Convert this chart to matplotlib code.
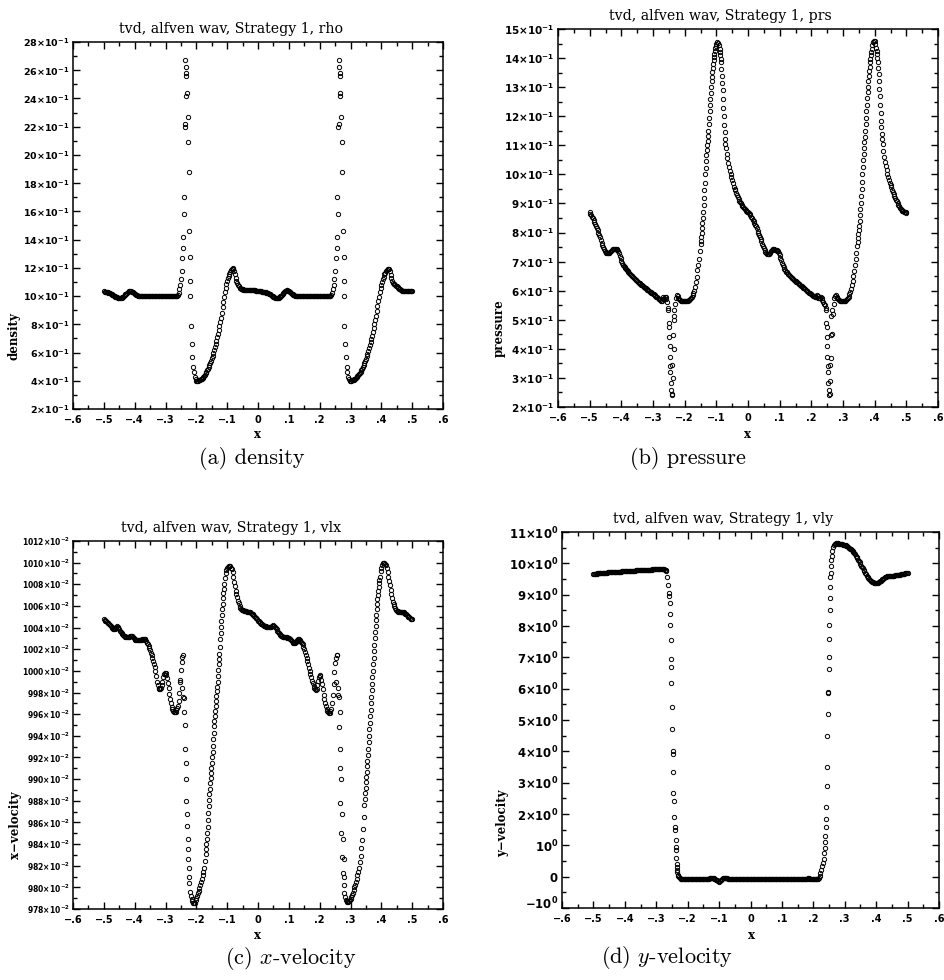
import numpy as np
import matplotlib
matplotlib.use('Agg')
import matplotlib.pyplot as plt
import matplotlib.transforms as mtransforms
from matplotlib.ticker import MultipleLocator

plt.rcParams['mathtext.fontset'] = 'dejavusans'

# ---------------- data (grid x from -0.5 to 0.5, step 0.0025) ----------------
x_grid = np.round(np.linspace(-0.5, 0.5, 401), 4)

rho_left = [
    1.033, 1.032, 1.031, 1.030, 1.028, 1.026, 1.024, 1.022, 1.020, 1.017, 1.014, 1.011, 1.008, 1.004, 1.000, 0.996, 0.993, 0.990, 0.988, 0.986,
    0.985, 0.985, 0.986, 0.988, 0.991, 0.995, 1.000, 1.006, 1.012, 1.018, 1.024, 1.029, 1.033, 1.035, 1.035, 1.034, 1.032, 1.029, 1.026, 1.022,
    1.018, 1.014, 1.010, 1.007, 1.004, 1.002, 1.001, 1.000, 0.999, 0.999, 1.000, 1.001, 1.001, 1.000, 0.999, 0.998, 0.999, 1.000, 1.001, 1.002,
    1.001, 1.000, 0.999, 0.998, 0.998, 0.999, 1.000, 1.001, 1.000, 0.999, 0.998, 0.998, 0.999, 1.000, 1.001, 1.002, 1.001, 1.000, 0.999, 0.999,
    1.000, 1.001, 1.002, 1.001, 1.000, 0.999, 0.998, 0.999, 1.000, 1.001, 1.002, 1.003, 1.002, 1.000, 0.999, 1.001, 1.005, 1.020, 1.050, 1.080,
    1.12, 1.18, 1.27, 1.42, 1.70, 2.20, 2.62, 2.56, 2.44, 2.27, 1.88, 1.46, 1.00, 0.79, 0.66, 0.57, 0.50, 0.46, 0.43, 0.41,
    0.400, 0.399, 0.400, 0.402, 0.404, 0.407, 0.411, 0.416, 0.422, 0.428, 0.435, 0.443, 0.452, 0.462, 0.473, 0.485, 0.498, 0.512, 0.527, 0.543,
    0.560, 0.578, 0.597, 0.617, 0.638, 0.660, 0.683, 0.707, 0.732, 0.758, 0.785, 0.815, 0.848, 0.883, 0.920, 0.957, 0.993, 1.028, 1.060, 1.088,
    1.110, 1.128, 1.143, 1.157, 1.170, 1.182, 1.193, 1.199, 1.192, 1.175, 1.153, 1.130, 1.110, 1.093, 1.079, 1.068, 1.060, 1.055, 1.051, 1.049,
    1.047, 1.046, 1.046, 1.045, 1.045, 1.045, 1.044, 1.044, 1.044, 1.043, 1.043, 1.043, 1.042, 1.042, 1.042, 1.041, 1.040, 1.039, 1.038, 1.036,
]
rho_right = [
    1.035, 1.035, 1.034, 1.034, 1.033, 1.032, 1.031, 1.030, 1.029, 1.028, 1.026, 1.025, 1.023, 1.021, 1.018, 1.015, 1.012, 1.008, 1.003, 0.999,
    0.995, 0.992, 0.989, 0.987, 0.986, 0.986, 0.987, 0.989, 0.993, 0.998, 1.004, 1.011, 1.018, 1.025, 1.031, 1.036, 1.039, 1.040, 1.040, 1.038,
    1.035, 1.031, 1.026, 1.021, 1.016, 1.012, 1.008, 1.005, 1.003, 1.001, 1.000, 0.999, 0.999, 1.000, 1.001, 1.001, 1.000, 0.999, 0.998, 0.999,
    1.000, 1.001, 1.002, 1.001, 1.000, 0.999, 0.998, 0.998, 0.999, 1.000, 1.001, 1.000, 0.999, 0.998, 0.999, 1.000, 1.001, 1.002, 1.001, 1.000,
    0.999, 0.998, 0.999, 1.000, 1.001, 1.002, 1.001, 1.000, 0.999, 1.000, 1.001, 1.002, 1.001, 1.000, 1.001, 1.005, 1.020, 1.050, 1.080, 1.120,
    1.18, 1.27, 1.42, 1.70, 2.20, 2.62, 2.56, 2.44, 2.27, 1.88, 1.46, 1.00, 0.79, 0.66, 0.57, 0.50, 0.46, 0.43, 0.41, 0.400,
    0.399, 0.400, 0.402, 0.404, 0.407, 0.411, 0.416, 0.421, 0.427, 0.433, 0.440, 0.448, 0.456, 0.465, 0.475, 0.486, 0.498, 0.511, 0.525, 0.540,
    0.556, 0.573, 0.591, 0.610, 0.630, 0.651, 0.673, 0.696, 0.720, 0.745, 0.772, 0.800, 0.830, 0.862, 0.895, 0.929, 0.963, 0.996, 1.027, 1.055,
    1.080, 1.102, 1.121, 1.138, 1.153, 1.166, 1.177, 1.186, 1.192, 1.194, 1.190, 1.175, 1.150, 1.125, 1.106, 1.095, 1.089, 1.085, 1.080, 1.074,
    1.068, 1.062, 1.056, 1.051, 1.047, 1.044, 1.041, 1.039, 1.037, 1.035, 1.034, 1.033, 1.033, 1.033, 1.034, 1.034, 1.034, 1.034, 1.034, 1.033,
    1.033,
]
rho_extra_x = [-0.2365, -0.2335, -0.2335, -0.2380, -0.2265, -0.2415, -0.2425, -0.2220, -0.2215,
               0.2635, 0.2665, 0.2665, 0.2620, 0.2735, 0.2585, 0.2575, 0.2780, 0.2785]
rho_extra_y = [2.67, 2.58, 2.42, 2.22, 2.09, 1.58, 1.34, 1.28, 1.11,
               2.67, 2.58, 2.42, 2.22, 2.09, 1.58, 1.34, 1.28, 1.11]

prs_left = [
    0.869, 0.864, 0.859, 0.854, 0.849, 0.843, 0.837, 0.830, 0.823, 0.816, 0.808, 0.800, 0.792, 0.783, 0.774, 0.765, 0.757, 0.749, 0.742, 0.736,
    0.732, 0.729, 0.728, 0.728, 0.729, 0.731, 0.734, 0.737, 0.740, 0.742, 0.744, 0.745, 0.745, 0.745, 0.744, 0.741, 0.736, 0.728, 0.719, 0.711,
    0.703, 0.696, 0.690, 0.685, 0.681, 0.677, 0.673, 0.670, 0.667, 0.664, 0.661, 0.658, 0.655, 0.652, 0.649, 0.646, 0.644, 0.641, 0.638, 0.636,
    0.633, 0.631, 0.628, 0.626, 0.623, 0.621, 0.619, 0.617, 0.614, 0.612, 0.610, 0.608, 0.605, 0.603, 0.601, 0.599, 0.597, 0.595, 0.593, 0.591,
    0.589, 0.587, 0.584, 0.582, 0.580, 0.577, 0.575, 0.572, 0.570, 0.567, 0.565, 0.566, 0.572, 0.578, 0.570, 0.578, 0.580, 0.572, 0.562, 0.540,
    0.490, 0.410, 0.320, 0.260, 0.245, 0.300, 0.400, 0.500, 0.555, 0.575, 0.585, 0.582, 0.576, 0.571, 0.567, 0.565, 0.564, 0.563, 0.563, 0.563,
    0.563, 0.563, 0.564, 0.564, 0.566, 0.567, 0.569, 0.572, 0.575, 0.580, 0.585, 0.592, 0.600, 0.613, 0.630, 0.648, 0.670, 0.690, 0.710, 0.735,
    0.760, 0.785, 0.815, 0.850, 0.895, 0.945, 1.000, 1.045, 1.084, 1.115, 1.150, 1.195, 1.240, 1.280, 1.320, 1.352, 1.380, 1.405, 1.425, 1.440,
    1.447, 1.454, 1.452, 1.445, 1.430, 1.410, 1.385, 1.340, 1.290, 1.230, 1.170, 1.120, 1.090, 1.070, 1.055, 1.040, 1.025, 1.012, 1.000, 0.990,
    0.980, 0.969, 0.958, 0.951, 0.945, 0.937, 0.930, 0.922, 0.915, 0.910, 0.905, 0.900, 0.895, 0.891, 0.887, 0.883, 0.880, 0.877, 0.874, 0.871,
]
prs_right = [
    0.872, 0.868, 0.864, 0.859, 0.854, 0.849, 0.844, 0.839, 0.833, 0.827, 0.821, 0.814, 0.807, 0.800, 0.793, 0.786, 0.778, 0.770, 0.762, 0.754,
    0.747, 0.740, 0.734, 0.729, 0.726, 0.725, 0.725, 0.727, 0.731, 0.736, 0.740, 0.743, 0.744, 0.743, 0.741, 0.740, 0.739, 0.738, 0.735, 0.730,
    0.722, 0.714, 0.705, 0.696, 0.688, 0.681, 0.675, 0.670, 0.666, 0.663, 0.659, 0.656, 0.653, 0.650, 0.648, 0.645, 0.643, 0.640, 0.638, 0.635,
    0.633, 0.631, 0.629, 0.626, 0.624, 0.622, 0.620, 0.617, 0.615, 0.612, 0.610, 0.608, 0.605, 0.603, 0.600, 0.598, 0.595, 0.593, 0.591, 0.589,
    0.587, 0.585, 0.583, 0.581, 0.580, 0.583, 0.578, 0.584, 0.576, 0.582, 0.576, 0.575, 0.578, 0.575, 0.568, 0.560, 0.555, 0.552, 0.540, 0.490,
    0.410, 0.320, 0.260, 0.245, 0.290, 0.370, 0.450, 0.520, 0.555, 0.575, 0.582, 0.585, 0.580, 0.574, 0.570, 0.567, 0.565, 0.564, 0.564, 0.564,
    0.564, 0.564, 0.565, 0.566, 0.568, 0.571, 0.575, 0.580, 0.587, 0.595, 0.605, 0.618, 0.633, 0.650, 0.668, 0.688, 0.708, 0.730, 0.755, 0.780,
    0.808, 0.840, 0.880, 0.925, 0.975, 1.025, 1.070, 1.110, 1.150, 1.195, 1.240, 1.282, 1.320, 1.355, 1.385, 1.410, 1.430, 1.445, 1.455, 1.460,
    1.458, 1.450, 1.435, 1.415, 1.385, 1.345, 1.295, 1.240, 1.185, 1.140, 1.105, 1.080, 1.060, 1.043, 1.028, 1.014, 1.002, 0.992, 0.982, 0.972,
    0.963, 0.955, 0.947, 0.940, 0.933, 0.926, 0.919, 0.913, 0.907, 0.901, 0.896, 0.891, 0.886, 0.882, 0.878, 0.875, 0.873, 0.871, 0.870, 0.869,
    0.868,
]
prs_extra_x = [-0.2515, -0.2495, -0.2485, -0.2465, -0.2455, -0.2435, -0.2415, -0.2385, -0.2365, -0.2345, -0.2335,
               0.2460, 0.2480, 0.2490, 0.2510, 0.2520, 0.2540, 0.2560, 0.2590, 0.2610, 0.2630, 0.2640,
               -0.14875, -0.14625, -0.14375, -0.14125, -0.13875, -0.13625, -0.13375, -0.13125, -0.12875, -0.12625,
               -0.12375, -0.12125, -0.11875, -0.11625, -0.11375, -0.11125, -0.10875, -0.10625, -0.10375,
               -0.08875, -0.08625, -0.08375, -0.08125, -0.07875, -0.07625, -0.07375, -0.07125,
               0.34625, 0.34875, 0.35125, 0.35375, 0.35625, 0.35875, 0.36125, 0.36375, 0.36625, 0.36875,
               0.37125, 0.37375, 0.37625, 0.37875, 0.38125, 0.38375, 0.38625, 0.38875,
               0.40625, 0.40875, 0.41125, 0.41375, 0.41625, 0.41875, 0.42125, 0.42375]
prs_extra_y = [0.535, 0.476, 0.440, 0.372, 0.342, 0.283, 0.242, 0.345, 0.447, 0.512, 0.535,
               0.535, 0.476, 0.440, 0.372, 0.342, 0.283, 0.242, 0.345, 0.447, 0.512, 0.535,
               0.772, 0.800, 0.832, 0.872, 0.920, 0.972, 1.022, 1.065, 1.100, 1.132,
               1.172, 1.218, 1.260, 1.300, 1.336, 1.366, 1.393, 1.415, 1.433,
               1.420, 1.398, 1.363, 1.315, 1.260, 1.200, 1.145, 1.105,
               0.767, 0.794, 0.824, 0.860, 0.902, 0.950, 1.000, 1.048, 1.090, 1.130,
               1.172, 1.218, 1.261, 1.300, 1.338, 1.370, 1.398, 1.420,
               1.425, 1.400, 1.365, 1.320, 1.268, 1.212, 1.162, 1.122]

vlx_left = [
    10.0476, 10.0470, 10.0465, 10.0460, 10.0455, 10.0447, 10.0440, 10.0430, 10.0424, 10.0415, 10.0405, 10.0395, 10.0387, 10.0385, 10.0390, 10.0400, 10.0410, 10.0415, 10.0410, 10.0398,
    10.0385, 10.0370, 10.0360, 10.0350, 10.0340, 10.0330, 10.0325, 10.0320, 10.0316, 10.0313, 10.0310, 10.0310, 10.0310, 10.0315, 10.0320, 10.0325, 10.0326, 10.0320, 10.0310, 10.0300,
    10.0290, 10.0286, 10.0286, 10.0285, 10.0285, 10.0286, 10.0286, 10.0285, 10.0286, 10.0288, 10.0290, 10.0293, 10.0295, 10.0295, 10.0290, 10.0278, 10.0260, 10.0245, 10.0228, 10.0210,
    10.0190, 10.0168, 10.0145, 10.0120, 10.0090, 10.0065, 10.0035, 10.0000, 9.9950, 9.9900, 9.9870, 9.9846, 9.9830, 9.9830, 9.9845, 9.9870, 9.9900, 9.9940, 9.9970, 9.9985,
    9.9980, 9.9960, 9.9930, 9.9890, 9.9840, 9.9790, 9.9740, 9.9700, 9.9670, 9.9645, 9.9630, 9.9618, 9.9616, 9.9620, 9.9635, 9.9656, 9.9680, 9.9720, 9.9800, 9.9920,
    10.0010, 10.0080, 10.0130, 10.0147, 9.9750, 9.9500, 9.9150, 9.8800, 9.8570, 9.8350, 9.8180, 9.8040, 9.7960, 9.7920, 9.7890, 9.7870, 9.7860, 9.7855, 9.7860, 9.7880,
    9.7900, 9.7920, 9.7950, 9.7970, 9.7990, 9.8020, 9.8050, 9.8080, 9.8110, 9.8140, 9.8180, 9.8240, 9.8310, 9.8400, 9.8500, 9.8620, 9.8750, 9.8860, 9.8960, 9.9060,
    9.9150, 9.9250, 9.9370, 9.9490, 9.9580, 9.9680, 9.9770, 9.9850, 9.9950, 10.0060, 10.0160, 10.0290, 10.0410, 10.0520, 10.0620, 10.0720, 10.0800, 10.0860, 10.0900, 10.0930,
    10.0946, 10.0960, 10.0967, 10.0968, 10.0965, 10.0955, 10.0940, 10.0910, 10.0870, 10.0820, 10.0780, 10.0735, 10.0710, 10.0680, 10.0650, 10.0624, 10.0600, 10.0580, 10.0570, 10.0562,
    10.0560, 10.0558, 10.0556, 10.0553, 10.0550, 10.0549, 10.0547, 10.0546, 10.0545, 10.0543, 10.0540, 10.0536, 10.0530, 10.0523, 10.0515, 10.0505, 10.0495, 10.0490, 10.0485, 10.0475,
]
vlx_right = [
    10.0465, 10.0458, 10.0450, 10.0443, 10.0437, 10.0431, 10.0426, 10.0421, 10.0417, 10.0414, 10.0412, 10.0410, 10.0409, 10.0408, 10.0407, 10.0406, 10.0405, 10.0408, 10.0413, 10.0418,
    10.0420, 10.0418, 10.0410, 10.0398, 10.0385, 10.0370, 10.0358, 10.0347, 10.0337, 10.0330, 10.0324, 10.0320, 10.0317, 10.0315, 10.0313, 10.0312, 10.0311, 10.0310, 10.0308, 10.0305,
    10.0300, 10.0295, 10.0290, 10.0286, 10.0280, 10.0270, 10.0260, 10.0255, 10.0258, 10.0265, 10.0275, 10.0285, 10.0290, 10.0290, 10.0285, 10.0277, 10.0268, 10.0258, 10.0245, 10.0225,
    10.0200, 10.0175, 10.0150, 10.0120, 10.0090, 10.0060, 10.0030, 10.0000, 9.9970, 9.9940, 9.9910, 9.9886, 9.9860, 9.9840, 9.9828, 9.9825, 9.9835, 9.9870, 9.9910, 9.9945,
    9.9960, 9.9950, 9.9920, 9.9880, 9.9830, 9.9780, 9.9740, 9.9700, 9.9675, 9.9650, 9.9630, 9.9618, 9.9612, 9.9615, 9.9625, 9.9650, 9.9700, 9.9780, 9.9880, 9.9990,
    10.0070, 10.0120, 10.0145, 10.0147, 9.9780, 9.9480, 9.9100, 9.8780, 9.8500, 9.8280, 9.8130, 9.8020, 9.7950, 9.7910, 9.7885, 9.7870, 9.7865, 9.7865, 9.7870, 9.7880,
    9.7895, 9.7910, 9.7930, 9.7950, 9.7975, 9.8000, 9.8025, 9.8050, 9.8080, 9.8110, 9.8140, 9.8180, 9.8230, 9.8290, 9.8360, 9.8440, 9.8540, 9.8650, 9.8760, 9.8870,
    9.8970, 9.9070, 9.9170, 9.9280, 9.9400, 9.9520, 9.9640, 9.9760, 9.9880, 10.0000, 10.0120, 10.0240, 10.0360, 10.0470, 10.0570, 10.0660, 10.0740, 10.0810, 10.0870, 10.0920,
    10.0955, 10.0980, 10.0995, 10.1000, 10.0998, 10.0990, 10.0975, 10.0950, 10.0915, 10.0870, 10.0830, 10.0790, 10.0750, 10.0710, 10.0670, 10.0640, 10.0615, 10.0595, 10.0580, 10.0565,
    10.0555, 10.0550, 10.0547, 10.0546, 10.0546, 10.0546, 10.0547, 10.0547, 10.0546, 10.0543, 10.0538, 10.0530, 10.0522, 10.0514, 10.0506, 10.0500, 10.0494, 10.0488, 10.0482, 10.0478,
    10.0476,
]
vlx_extra_x = [-0.2515, -0.2465, -0.2430, -0.2385, -0.2365, -0.2345, -0.2315, -0.2285, -0.2265, -0.2235,
               0.2545, 0.2595, 0.2620, 0.2655, 0.2675, 0.2695, 0.2725, 0.2755, 0.2775, 0.2805,
               -0.16875, -0.16625, -0.16375, -0.16125, -0.15875, -0.15625, -0.15375, -0.15125, -0.14875, -0.14625,
               -0.14375, -0.14125, -0.13875, -0.13625, -0.13375, -0.13125, -0.12875, -0.12625, -0.12375, -0.12125,
               -0.11875, -0.11625, -0.11375, -0.11125,
               0.34625, 0.34875, 0.35125, 0.35375, 0.35625, 0.35875, 0.36125, 0.36375, 0.36625, 0.36875,
               0.37125, 0.37375, 0.37625, 0.37875, 0.38125, 0.38375, 0.38625, 0.38875, 0.39125, 0.39375]
vlx_extra_y = [9.990, 9.984, 9.976, 9.962, 9.928, 9.900, 9.868, 9.845, 9.826, 9.810,
               9.990, 9.984, 9.976, 9.962, 9.928, 9.900, 9.868, 9.845, 9.826, 9.810,
               9.8355, 9.8450, 9.8560, 9.8685, 9.8805, 9.8910, 9.9010, 9.9105, 9.9200, 9.9310,
               9.9430, 9.9535, 9.9630, 9.9725, 9.9810, 9.9900, 10.0005, 10.0110, 10.0225, 10.0350,
               10.0465, 10.0570, 10.0670, 10.0760,
               9.8815, 9.8920, 9.9020, 9.9120, 9.9225, 9.9340, 9.9460, 9.9580, 9.9700, 9.9820,
               9.9940, 10.0060, 10.0180, 10.0300, 10.0415, 10.0520, 10.0615, 10.0700, 10.0775, 10.0840]

vly_left = [
    9.66, 9.66, 9.67, 9.67, 9.67, 9.68, 9.68, 9.68, 9.68, 9.69, 9.69, 9.69, 9.69, 9.70, 9.70, 9.70, 9.70, 9.70, 9.71, 9.71,
    9.71, 9.71, 9.71, 9.72, 9.72, 9.72, 9.72, 9.72, 9.72, 9.73, 9.73, 9.73, 9.73, 9.73, 9.73, 9.73, 9.74, 9.74, 9.74, 9.74,
    9.74, 9.75, 9.75, 9.75, 9.75, 9.76, 9.76, 9.76, 9.76, 9.77, 9.77, 9.77, 9.77, 9.77, 9.78, 9.78, 9.78, 9.78, 9.78, 9.78,
    9.79, 9.79, 9.79, 9.79, 9.79, 9.79, 9.80, 9.80, 9.80, 9.80, 9.80, 9.80, 9.80, 9.80, 9.80, 9.81, 9.81, 9.81, 9.81, 9.81,
    9.81, 9.81, 9.81, 9.81, 9.81, 9.81, 9.81, 9.81, 9.81, 9.81, 9.81, 9.80, 9.79, 9.75, 9.55, 9.30, 9.05, 8.75, 8.03, 6.70,
    5.43, 3.90, 2.40, 1.90, 1.60, 0.95, 0.40, 0.15, 0.03, -0.02, -0.05, -0.07, -0.08, -0.08, -0.08, -0.08, -0.08, -0.07, -0.07, -0.07,
    -0.07, -0.08, -0.08, -0.08, -0.07, -0.07, -0.08, -0.08, -0.08, -0.08, -0.07, -0.07, -0.08, -0.08, -0.08, -0.07, -0.07, -0.07, -0.08, -0.08,
    -0.08, -0.08, -0.08, -0.07, -0.07, -0.07, -0.06, -0.06, -0.05, -0.04, -0.035, -0.03, -0.03, -0.04, -0.06, -0.08, -0.10, -0.12, -0.14, -0.15,
    -0.16, -0.15, -0.12, -0.10, -0.07, -0.05, -0.04, -0.03, -0.03, -0.04, -0.05, -0.06, -0.07, -0.07, -0.08, -0.08, -0.08, -0.08, -0.08, -0.08,
    -0.08, -0.08, -0.08, -0.07, -0.07, -0.08, -0.08, -0.08, -0.08, -0.07, -0.07, -0.08, -0.08, -0.08, -0.08, -0.08, -0.07, -0.07, -0.08, -0.08,
]
vly_right = [
    -0.08, -0.08, -0.07, -0.07, -0.08, -0.08, -0.08, -0.08, -0.07, -0.07, -0.08, -0.08, -0.08, -0.08, -0.08, -0.07, -0.07, -0.08, -0.08, -0.08,
    -0.08, -0.08, -0.07, -0.07, -0.07, -0.08, -0.08, -0.08, -0.08, -0.08, -0.07, -0.07, -0.07, -0.08, -0.08, -0.08, -0.08, -0.07, -0.07, -0.07,
    -0.07, -0.08, -0.08, -0.08, -0.07, -0.07, -0.07, -0.08, -0.08, -0.08, -0.07, -0.07, -0.06, -0.06, -0.07, -0.07, -0.08, -0.08, -0.07, -0.07,
    -0.06, -0.06, -0.07, -0.07, -0.07, -0.06, -0.06, -0.06, -0.07, -0.07, -0.07, -0.06, -0.06, -0.05, -0.05, -0.06, -0.06, -0.06, -0.07, -0.07,
    -0.07, -0.07, -0.06, -0.06, -0.07, -0.07, -0.06, -0.05, 0.02, 0.13, 0.22, 0.34, 0.45, 0.55, 0.75, 1.10, 1.60, 2.90, 4.50, 5.90,
    7.60, 8.90, 9.70, 10.10, 10.40, 10.52, 10.58, 10.61, 10.63, 10.64, 10.64, 10.64, 10.63, 10.63, 10.62, 10.62, 10.61, 10.61, 10.60, 10.59,
    10.58, 10.57, 10.55, 10.54, 10.52, 10.50, 10.48, 10.46, 10.45, 10.42, 10.39, 10.36, 10.33, 10.29, 10.25, 10.21, 10.17, 10.12, 10.08, 10.03,
    9.98, 9.93, 9.88, 9.84, 9.79, 9.74, 9.70, 9.65, 9.61, 9.57, 9.54, 9.51, 9.48, 9.45, 9.43, 9.41, 9.39, 9.38, 9.37, 9.37,
    9.36, 9.37, 9.38, 9.39, 9.41, 9.43, 9.45, 9.47, 9.49, 9.51, 9.53, 9.55, 9.56, 9.57, 9.58, 9.59, 9.59, 9.60, 9.60, 9.60,
    9.60, 9.61, 9.61, 9.61, 9.62, 9.62, 9.62, 9.63, 9.63, 9.64, 9.64, 9.65, 9.65, 9.66, 9.66, 9.67, 9.67, 9.68, 9.68, 9.68,
    9.68,
]
vly_extra_x = [-0.2585, -0.2565, -0.2540, -0.2530, -0.2515, -0.2495, -0.2480, -0.2465, -0.2455, -0.2405, -0.2385, -0.2365, -0.2360, -0.2345, -0.2335, -0.2315,
               0.2365, 0.2385, 0.2405, 0.2415, 0.2435, 0.2455, 0.2465, 0.2485, 0.2490, 0.2505, 0.2515, 0.2530, 0.2545, 0.2560, 0.2585]
vly_extra_y = [8.96, 8.38, 7.55, 6.94, 6.19, 4.71, 4.02, 3.35, 2.68, 1.49, 1.17, 0.85, 0.59, 0.32, 0.21, 0.05,
               0.90, 1.30, 1.83, 2.21, 3.50, 5.20, 5.87, 6.62, 7.00, 8.03, 8.51, 9.26, 9.55, 9.90, 10.25]

x_ticks = [-0.6, -0.5, -0.4, -0.3, -0.2, -0.1, 0.0, 0.1, 0.2, 0.3, 0.4, 0.5, 0.6]
x_tick_labels = ['\u2212.6', '\u2212.5', '\u2212.4', '\u2212.3', '\u2212.2', '\u2212.1', '0',
                 '.1', '.2', '.3', '.4', '.5', '.6']

rho_yticks = [0.2, 0.4, 0.6, 0.8, 1.0, 1.2, 1.4, 1.6, 1.8, 2.0, 2.2, 2.4, 2.6, 2.8]
rho_mant = ['2', '4', '6', '8', '10', '12', '14', '16', '18', '20', '22', '24', '26', '28']
prs_yticks = [0.2, 0.3, 0.4, 0.5, 0.6, 0.7, 0.8, 0.9, 1.0, 1.1, 1.2, 1.3, 1.4, 1.5]
prs_mant = ['2', '3', '4', '5', '6', '7', '8', '9', '10', '11', '12', '13', '14', '15']
vlx_yticks = [9.78, 9.80, 9.82, 9.84, 9.86, 9.88, 9.90, 9.92, 9.94, 9.96, 9.98, 10.00,
              10.02, 10.04, 10.06, 10.08, 10.10, 10.12]
vlx_mant = ['978', '980', '982', '984', '986', '988', '990', '992', '994', '996', '998', '1000',
            '1002', '1004', '1006', '1008', '1010', '1012']
vly_yticks = [-1, 0, 1, 2, 3, 4, 5, 6, 7, 8, 9, 10, 11]
vly_labels = [r'$\mathbf{-10^{0}}$', r'$\mathbf{0}$', r'$\mathbf{10^{0}}$'] + \
    [r'$\mathbf{%s{\times}10^{0}}$' % m for m in ['2', '3', '4', '5', '6', '7', '8', '9', '10', '11']]

titles = ['tvd, alfven wav, Strategy 1, rho', 'tvd, alfven wav, Strategy 1, prs',
          'tvd, alfven wav, Strategy 1, vlx', 'tvd, alfven wav, Strategy 1, vly']
ylabels = ['density', 'pressure', 'x\u2212velocity', 'y\u2212velocity']
captions = [r'(a) density', r'(b) pressure', r'(c) $x$-velocity', r'(d) $y$-velocity']

assert len(rho_left) == 200 and len(rho_right) == 201
assert len(prs_left) == 200 and len(prs_right) == 201
assert len(vlx_left) == 200 and len(vlx_right) == 201
assert len(vly_left) == 200 and len(vly_right) == 201
assert len(prs_extra_x) == len(prs_extra_y) and len(vlx_extra_x) == len(vlx_extra_y)
assert len(vly_extra_x) == len(vly_extra_y) and len(rho_extra_x) == len(rho_extra_y)

# ---------------- figure ----------------
W, H = 944, 980
fig = plt.figure(figsize=(W / 100, H / 100), dpi=100)


def rect(l, r, t, b):
    return [l / W, 1 - b / H, (r - l) / W, (b - t) / H]


def fx(px):
    return px / W


def fy(py):
    return 1 - py / H


panels = [
    dict(rect=rect(73, 443, 42, 409), y=rho_left + rho_right, ex=(rho_extra_x, rho_extra_y),
         ylim=(0.2, 2.8), yt=rho_yticks, yl=[r'$\mathbf{%s{\times}10^{-1}}$' % m for m in rho_mant],
         ymin=0.1, yfs=6.8, ylab=(14, 336), xlab=(258, 435), cap=(252, 459)),
    dict(rect=rect(558, 938, 29, 407), y=prs_left + prs_right, ex=(prs_extra_x, prs_extra_y),
         ylim=(0.2, 1.5), yt=prs_yticks, yl=[r'$\mathbf{%s{\times}10^{-1}}$' % m for m in prs_mant],
         ymin=0.05, yfs=7.5, ylab=(499, 328), xlab=(748, 435), cap=(688, 459)),
    dict(rect=rect(73, 443, 541, 909), y=vlx_left + vlx_right, ex=(vlx_extra_x, vlx_extra_y),
         ylim=(9.78, 10.12), yt=vlx_yticks, yl=[r'$\mathbf{%s{\times}10^{-2}}$' % m for m in vlx_mant],
         ymin=0.01, yfs=5.5, ylab=(16, 825), xlab=(258, 935), cap=(291, 958)),
    dict(rect=rect(562, 939, 532, 908), y=vly_left + vly_right, ex=(vly_extra_x, vly_extra_y),
         ylim=(-1, 11), yt=vly_yticks, yl=vly_labels,
         ymin=0.5, yfs=8.4, ylab=(503, 823), xlab=(751, 935), cap=(667, 957)),
]

for i, p in enumerate(panels):
    ax = fig.add_axes(p['rect'])
    ax.plot(x_grid, p['y'], 'o', mfc='none', mec='black', ms=3.1, mew=0.7)
    ax.plot(p['ex'][0], p['ex'][1], 'o', mfc='none', mec='black', ms=3.1, mew=0.7)
    ax.set_xlim(-0.6, 0.6)
    ax.set_ylim(*p['ylim'])
    ax.set_xticks(x_ticks)
    ax.set_xticklabels(x_tick_labels, fontsize=7.0, fontweight='bold', family='DejaVu Sans')
    ax.xaxis.set_minor_locator(MultipleLocator(0.05))
    ax.set_yticks(p['yt'])
    ax.set_yticklabels(p['yl'], fontsize=p['yfs'])
    ax.yaxis.set_minor_locator(MultipleLocator(p['ymin']))
    ax.tick_params(which='both', direction='in', top=True, right=True, width=1.0)
    ax.tick_params(which='major', length=5, pad=2.5)
    ax.tick_params(which='minor', length=3)
    ax.tick_params(axis='x', which='major', pad=4)
    for s in ax.spines.values():
        s.set_linewidth(1.1)
    if i == 3:
        # the bottom label of the y-velocity panel sits a little above its tick, clear of "-.6"
        lab0 = ax.get_yticklabels()[0]
        lab0.set_transform(lab0.get_transform() +
                           mtransforms.ScaledTranslation(0, 4 / 72, fig.dpi_scale_trans))
    ax.annotate(titles[i], xy=(0.427, 1.0), xycoords='axes fraction', xytext=(0, 4.5),
                textcoords='offset points', ha='center', va='bottom',
                fontsize=10.2, family='DejaVu Serif')
    fig.text(fx(p['ylab'][0]), fy(p['ylab'][1]), ylabels[i], rotation=90, ha='center', va='center',
             fontsize=8.5, family='DejaVu Serif', fontweight='bold')
    fig.text(fx(p['xlab'][0]), fy(p['xlab'][1]), 'x', ha='center', va='center',
             fontsize=8.5, family='DejaVu Serif', fontweight='bold')
    fig.text(fx(p['cap'][0]), fy(p['cap'][1]), captions[i], ha='center', va='center',
             fontsize=16, family='cmr10', math_fontfamily='cm')

fig.savefig('out.png', dpi=100)
